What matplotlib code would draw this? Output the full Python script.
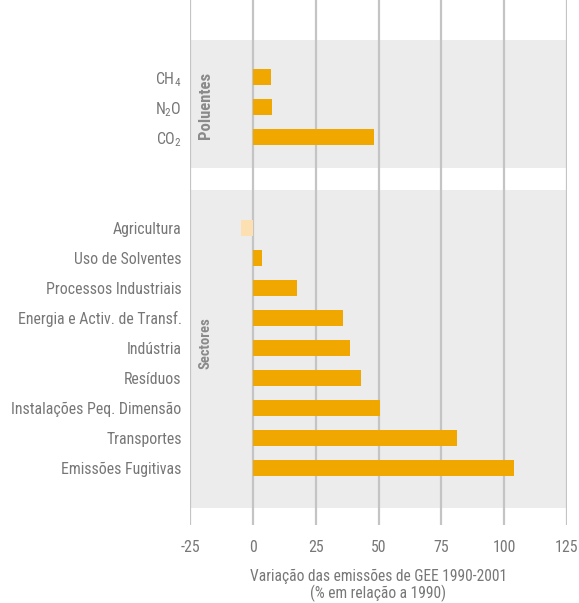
import matplotlib
matplotlib.use("Agg")
import matplotlib.pyplot as plt

plt.rcParams['font.family'] = ['Roboto Condensed', 'DejaVu Sans']
plt.rcParams['mathtext.fontset'] = 'custom'
plt.rcParams['mathtext.rm'] = 'Roboto Condensed'
plt.rcParams['mathtext.default'] = 'regular'

pollutants = ['CH$_4$', 'N$_2$O', 'CO$_2$']
pollutant_values = [7.2, 7.6, 48.2]
sectors = ['Agricultura', 'Uso de Solventes', 'Processos Industriais',
           'Energia e Activ. de Transf.', 'Indústria', 'Resíduos',
           'Instalações Peq. Dimensão', 'Transportes', 'Emissões Fugitivas']
sector_values = [-4.7, 3.5, 17.6, 35.9, 38.7, 43.0, 50.6, 81.3, 104.0]
xticks = [-25, 0, 25, 50, 75, 100, 125]
group_labels = ['Poluentes', 'Sectores']

pol_pos = list(range(len(pollutants)))
sec_pos = [5 + i for i in range(len(sectors))]

fig = plt.figure(figsize=(5.79, 6.03), dpi=100)
ax = fig.add_axes([190/579, 1 - 525/603, 377/579, 525/603])
ax.set_xlim(-25, 125)
ax.set_ylim(14.88, -2.56)

band = '#ececec'
ax.axhspan(-1.23, 3.02, color=band, zorder=0, lw=0)
ax.axhspan(3.75, 14.32, color=band, zorder=0, lw=0)

for t in xticks:
    ax.axvline(t, color='#c4c4c4', lw=1.6, zorder=1)

orange = '#f0a800'
light = '#fde0b2'
ax.barh(pol_pos, pollutant_values, height=0.53, color=orange, zorder=2)
ax.barh(sec_pos, sector_values, height=0.53,
        color=[light if v < 0 else orange for v in sector_values], zorder=2)

ax.set_yticks(pol_pos + sec_pos)
ax.set_yticklabels(pollutants + sectors)
ax.set_xticks(xticks)
ax.set_xticklabels([str(t) for t in xticks])
ax.tick_params(axis='both', length=0, colors='#777777', labelsize=11.4)
ax.tick_params(axis='x', pad=11)
ax.tick_params(axis='y', pad=6)
for s in ax.spines.values():
    s.set_visible(False)

ax.text(-19, 0.95, group_labels[0], rotation=90, ha='center', va='center',
        color='#8a8a8a', fontsize=12, fontweight='bold')
ax.text(-19, 8.84, group_labels[1], rotation=90, ha='center', va='center',
        color='#8a8a8a', fontsize=10.5, fontweight='bold')

ax.set_xlabel('Variação das emissões de GEE 1990-2001\n(% em relação a 1990)',
              color='#777777', fontsize=11.2, labelpad=10, linespacing=1.0)

fig.savefig('out.png', dpi=100)
